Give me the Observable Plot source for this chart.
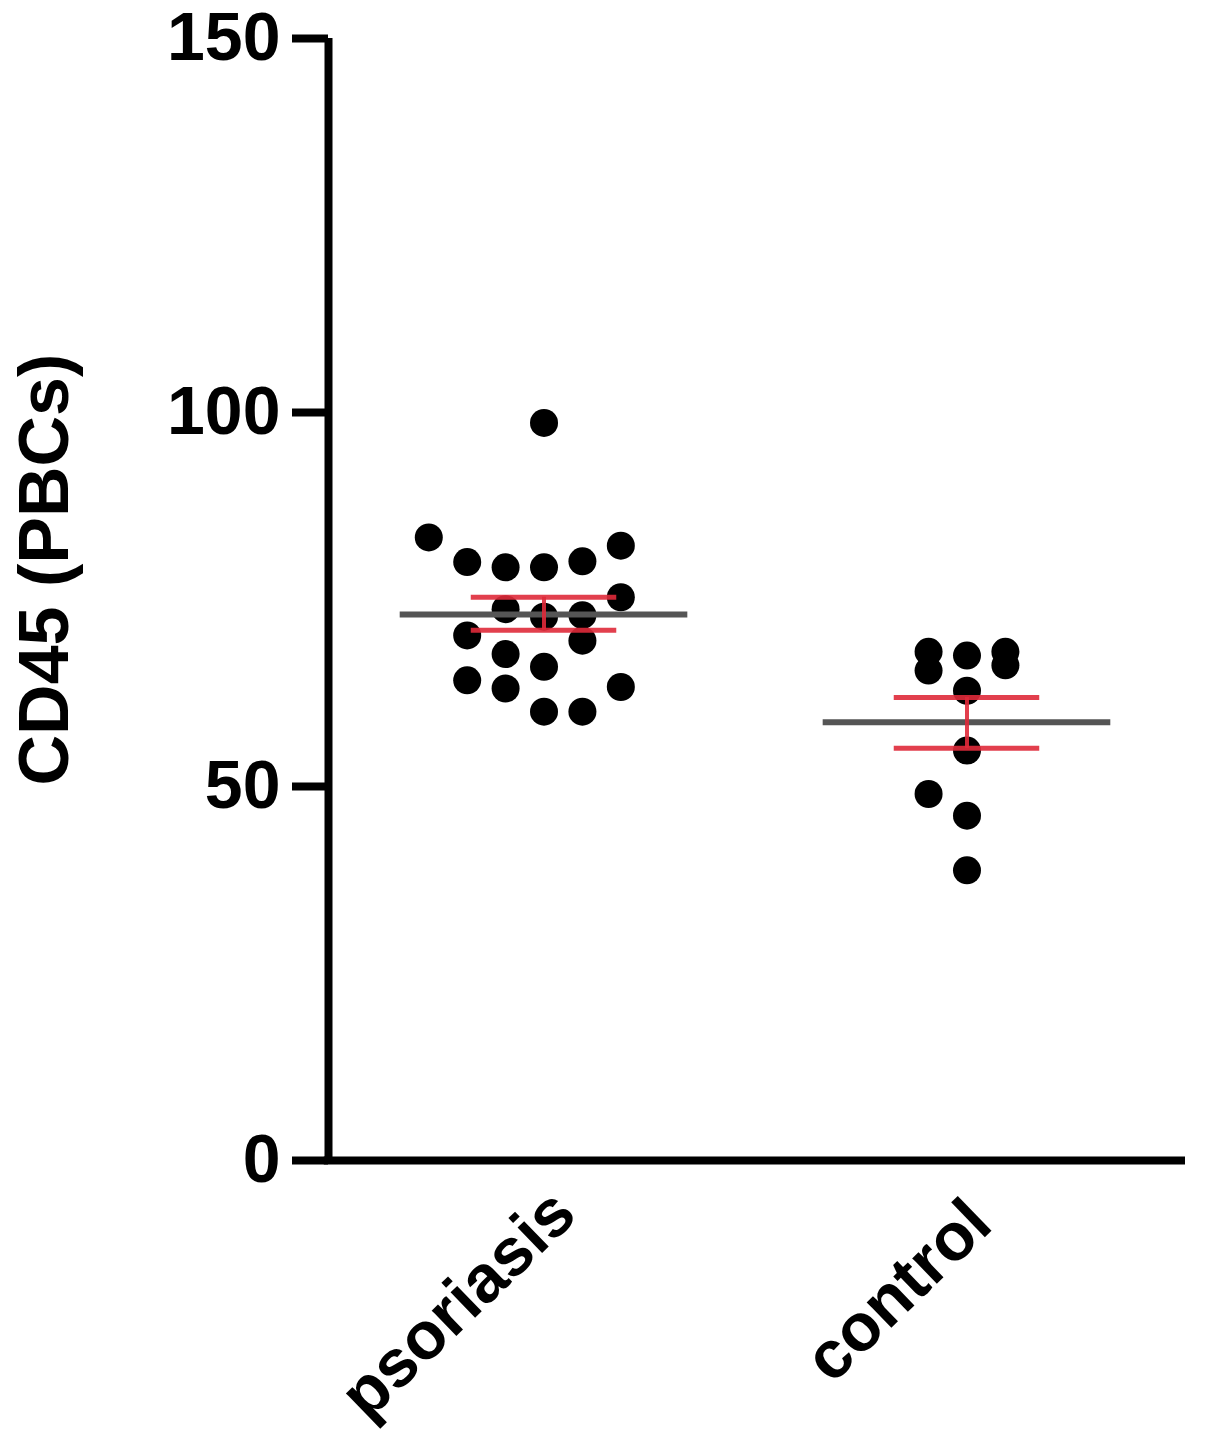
<!DOCTYPE html>
<html>
<head>
<meta charset="utf-8">
<script src="https://cdn.jsdelivr.net/npm/d3@7"></script>
<script src="https://cdn.jsdelivr.net/npm/@observablehq/plot@0.6"></script>
<style>
  html, body { margin: 0; padding: 0; background: #fff; }
  svg { overflow: visible; }
</style>
</head>
<body>
<div id="chart"></div>
<script>
// ---- data ----
const groups = ["psoriasis", "control"];
const yTicks = [0, 50, 100, 150];
const yLabel = "CD45 (PBCs)";

const psoriasisValues = [98.6, 83.3, 82.2, 80.0, 79.3, 79.3, 80.1, 75.3, 73.7, 72.7,
                         72.9, 70.2, 69.5, 67.7, 66.0, 64.2, 63.1, 63.3, 60.0, 60.0];
const psoriasisLanes  = [0, -3, 2, -2, -1, 0, 1, 2, -1, 0,
                         1, -2, 1, -1, 0, -2, -1, 2, 0, 1];

const controlValues = [68.0, 65.5, 67.5, 68.0, 66.2, 62.8, 54.8, 49.0, 46.1, 38.8];
const controlLanes  = [-1, -1, 0, 1, 1, 0, 0, -1, 0, 0];

const means    = [73.0, 58.6];
const semUpper = [75.3, 61.9];
const semLower = [70.9, 55.1];

// ---- build tables ----
const laneStep = 0.0908;
const dots = [
  ...psoriasisValues.map((v, i) => ({g: 1, lane: psoriasisLanes[i], v})),
  ...controlValues.map((v, i) => ({g: 2, lane: controlLanes[i], v}))
];
const summary = groups.map((name, i) => ({
  g: i + 1, name, mean: means[i], hi: semUpper[i], lo: semLower[i]
}));

const x0 = 0.4905, x1 = 2.5166;
const font = "'Liberation Sans', Arial, Helvetica, sans-serif";
const red = "#df2a3a";

const chart = Plot.plot({
  width: 1205,
  height: 1440,
  marginLeft: 328,
  marginRight: 20,
  marginTop: 38,
  marginBottom: 280,
  style: {fontFamily: font, fontWeight: "bold", fontSize: "68px", color: "#000", background: "#fff", overflow: "visible"},
  x: {type: "linear", domain: [x0, x1], axis: null},
  y: {domain: [0, 150]},
  marks: [
    Plot.dot(dots, {x: d => d.g + d.lane * laneStep, y: "v", r: 14, fill: "#000", stroke: "none"}),
    Plot.ruleY(summary, {x1: d => d.g - 0.34, x2: d => d.g + 0.34, y: "mean", stroke: "#555", strokeWidth: 6}),
    Plot.ruleY(summary, {x1: d => d.g - 0.172, x2: d => d.g + 0.172, y: "hi", stroke: red, strokeWidth: 5, strokeOpacity: 0.9}),
    Plot.ruleY(summary, {x1: d => d.g - 0.172, x2: d => d.g + 0.172, y: "lo", stroke: red, strokeWidth: 5, strokeOpacity: 0.9}),
    Plot.ruleX(summary, {x: "g", y1: "lo", y2: "hi", stroke: red, strokeWidth: 4, strokeOpacity: 0.9}),
    // axes
    Plot.ruleX([x0], {y1: 0, y2: 150, stroke: "#000", strokeWidth: 8}),
    Plot.ruleY([0], {x1: x0 - 0.01, x2: x1, stroke: "#000", strokeWidth: 8}),
    Plot.axisY({ticks: yTicks, tickSize: 36, tickPadding: 12, strokeWidth: 8, stroke: "#000", fill: "#000", label: null, fontSize: 68}),
    Plot.text([yLabel], {x: x0, y: 79, dx: -283, rotate: -90, text: d => d, fontSize: 70, fill: "#000", textAnchor: "middle", lineAnchor: "middle"}),
    Plot.text(summary.filter(d => d.g === 1), {x: "g", y: 0, text: "name", rotate: -44, textAnchor: "end", lineAnchor: "bottom", dx: 35, dy: 57, fontSize: 67, fill: "#000"}),
    Plot.text(summary.filter(d => d.g === 2), {x: "g", y: 0, text: "name", rotate: -44, textAnchor: "end", lineAnchor: "bottom", dx: 28, dy: 67, fontSize: 67, fill: "#000"})
  ]
});
document.getElementById("chart").appendChild(chart);
</script>
</body>
</html>
